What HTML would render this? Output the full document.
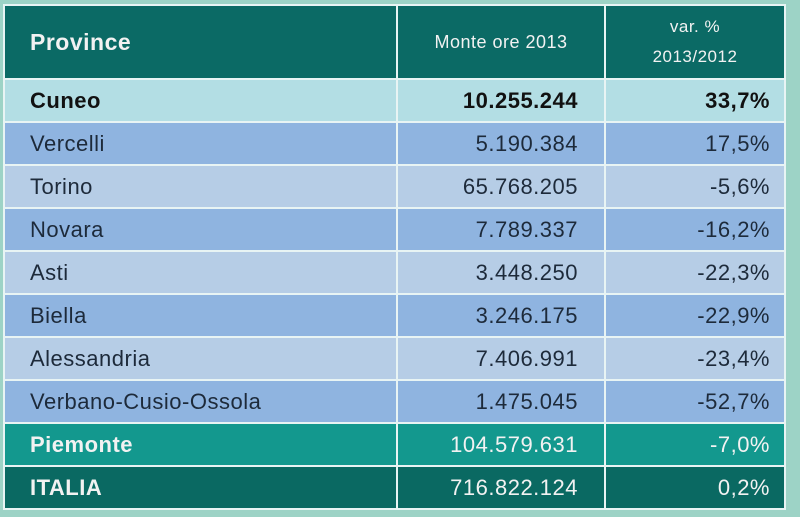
<!DOCTYPE html>
<html><head><style>
body{margin:0;width:800px;height:517px;overflow:hidden;background:#9dd3c6;font-family:"Liberation Sans",sans-serif;}
.t{position:absolute;left:3px;top:4px;width:783px;border-collapse:collapse;}
td{border:2px solid #e8f4f4;height:41px;padding:0;font-size:22px;color:#1d2a3a;letter-spacing:0.5px}
td.a{padding-left:25px;width:366px}
td.b{text-align:right;padding-right:26px;width:180px}
td.c{text-align:right;padding-right:14px}
tr.h td{background:#0b6a65;color:#f2f2f2;height:72px}
tr.h td.a{font-weight:bold;font-size:23px}
tr.h td.b{text-align:center;font-size:18px;padding:0}
tr.h td.c{text-align:center;font-size:17px;line-height:30px;padding:0}
tr.cu td{background:#b3dee4;font-weight:bold;color:#111}
tr.d td{background:#8fb4e0}
tr.l td{background:#b6cde6}
tr.p td{background:#13988e;color:#f2f2f2}
tr.i td{background:#0a6962;color:#f2f2f2;font-weight:bold}
tr.i td.b,tr.i td.c{font-weight:normal}
tr.p td.a{font-weight:bold}
</style></head><body>
<table class="t">
<tr class="h"><td class="a">Province</td><td class="b">Monte ore 2013</td><td class="c">var. %<br>2013/2012</td></tr>
<tr class="cu"><td class="a">Cuneo</td><td class="b">10.255.244</td><td class="c">33,7%</td></tr>
<tr class="d"><td class="a">Vercelli</td><td class="b">5.190.384</td><td class="c">17,5%</td></tr>
<tr class="l"><td class="a">Torino</td><td class="b">65.768.205</td><td class="c">-5,6%</td></tr>
<tr class="d"><td class="a">Novara</td><td class="b">7.789.337</td><td class="c">-16,2%</td></tr>
<tr class="l"><td class="a">Asti</td><td class="b">3.448.250</td><td class="c">-22,3%</td></tr>
<tr class="d"><td class="a">Biella</td><td class="b">3.246.175</td><td class="c">-22,9%</td></tr>
<tr class="l"><td class="a">Alessandria</td><td class="b">7.406.991</td><td class="c">-23,4%</td></tr>
<tr class="d"><td class="a">Verbano-Cusio-Ossola</td><td class="b">1.475.045</td><td class="c">-52,7%</td></tr>
<tr class="p"><td class="a">Piemonte</td><td class="b">104.579.631</td><td class="c">-7,0%</td></tr>
<tr class="i"><td class="a">ITALIA</td><td class="b">716.822.124</td><td class="c">0,2%</td></tr>
</table>
</body></html>
